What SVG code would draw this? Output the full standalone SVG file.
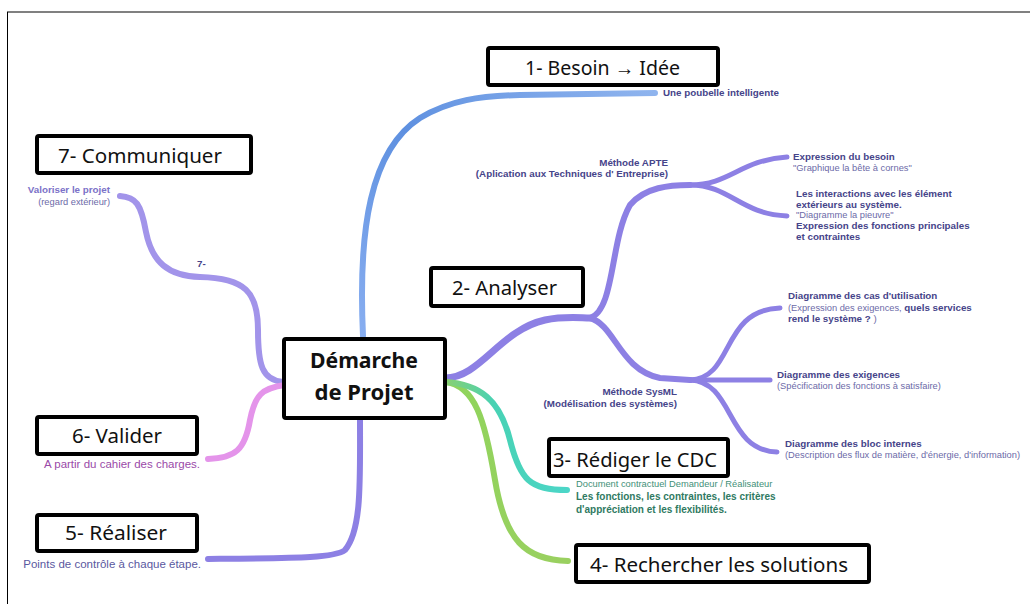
<svg xmlns="http://www.w3.org/2000/svg" width="1030" height="604" viewBox="0 0 1030 604">
<defs>
<style>
.box{fill:#fff;stroke:#000;stroke-width:4}
.bl{font-family:"Noto Sans","Open Sans",sans-serif;font-size:20px;fill:#111}
.ctr{font-family:"Noto Sans","Open Sans",sans-serif;font-size:22px;font-weight:bold;fill:#111;text-anchor:middle}
.br{fill:none;stroke-linecap:round;stroke-linejoin:round}
.t{font-family:"Liberation Sans",Arial,sans-serif;font-size:9.3px}
.b{font-weight:bold;fill:#46448a;font-size:9.8px}
.r{fill:#6c6aa8}
.big{font-size:11.5px}
.cdc{font-size:9.3px;fill:#3f9078}
.cdcb{font-size:10px;font-weight:bold;fill:#2f7a62}
</style>
<linearGradient id="gBlue" x1="0" y1="1" x2="1" y2="0"><stop offset="0" stop-color="#88aef0"/><stop offset="0.5" stop-color="#5e90e0"/><stop offset="1" stop-color="#8fb4ee"/></linearGradient>
<linearGradient id="gTeal" x1="0" y1="0" x2="1" y2="0"><stop offset="0" stop-color="#8ad070"/><stop offset="0.4" stop-color="#48d2b4"/><stop offset="1" stop-color="#4cd6c8"/></linearGradient>
<linearGradient id="gGreen" x1="0" y1="0" x2="1" y2="1"><stop offset="0" stop-color="#8fd45c"/><stop offset="1" stop-color="#9ad060"/></linearGradient>
</defs>
<g id="frame">
<line x1="7" y1="12" x2="1030" y2="12" stroke="#808080" stroke-width="2"/>
<line x1="7.5" y1="12" x2="7.5" y2="604" stroke="#000" stroke-width="1"/>
</g>
<g id="connectors">
<path class="br" stroke="url(#gBlue)" stroke-width="6" d="M363,336 C358,230 370,150 420,118 C450,100 480,96 520,95 L655,93"/>
<path class="br" stroke="#8d80e4" stroke-width="7" d="M445,378 C480,378 500,330 545,320 C565,316 580,318 590,318"/>
<path class="br" stroke="#8d80e4" stroke-width="6" d="M590,318 C615,310 610,240 630,205 C645,187 670,185 690,185"/>
<path class="br" stroke="#8d80e4" stroke-width="6" d="M590,318 C615,325 620,370 660,378 L690,380"/>
<path class="br" stroke="#8d80e4" stroke-width="5" d="M690,185 C730,185 740,160 787,157"/>
<path class="br" stroke="#8d80e4" stroke-width="5" d="M690,185 C730,185 740,214 787,216"/>
<path class="br" stroke="#8d80e4" stroke-width="5" d="M690,380 C735,378 720,310 780,308"/>
<path class="br" stroke="#8d80e4" stroke-width="5" d="M690,380 L770,380"/>
<path class="br" stroke="#8d80e4" stroke-width="5" d="M690,380 C735,382 725,450 777,452"/>
<path class="br" stroke="#a294ea" stroke-width="6" d="M283,382 C262,380 258,365 258,330 C258,292 245,278 200,277 C168,276 152,262 146,232 C141,204 136,197 120,196"/>
<path class="br" stroke="#e494ea" stroke-width="6" d="M285,385 C262,388 255,395 250,420 C245,450 235,458 208,459"/>
<path class="br" stroke="#8d80e4" stroke-width="6" d="M360,418 C360,480 362,530 345,550 C335,558 300,558 208,559"/>
<path class="br" stroke="url(#gGreen)" stroke-width="6" d="M445,382 C475,385 485,420 495,480 C505,540 525,560 568,561"/>
<path class="br" stroke="url(#gTeal)" stroke-width="6" d="M445,382 C480,384 500,400 510,440 C520,480 530,490 567,490"/>
</g>
<g id="center">
<rect class="box" x="284" y="339" width="161" height="79" rx="2"/>
<text class="ctr" x="364" y="368" textLength="108" lengthAdjust="spacingAndGlyphs">Démarche</text>
<text class="ctr" x="364" y="400" textLength="99" lengthAdjust="spacingAndGlyphs">de Projet</text>
</g>
<g id="n1">
<rect class="box" x="488" y="48" width="230" height="37" rx="2"/>
<text class="bl" x="525" y="75" textLength="155" lengthAdjust="spacingAndGlyphs">1- Besoin → Idée</text>
<text class="t b" x="663" y="96">Une poubelle intelligente</text>
</g>
<g id="n2">
<rect class="box" x="431" y="268" width="152" height="38" rx="2"/>
<text class="bl" x="452" y="295" textLength="105" lengthAdjust="spacingAndGlyphs">2- Analyser</text>
</g>
<g id="apte">
<text class="t b" x="668" y="166" text-anchor="end">Méthode APTE</text>
<text class="t b" x="668" y="177" text-anchor="end">(Aplication aux Techniques d' Entreprise)</text>
</g>
<g id="besoin">
<text class="t b" x="793" y="160">Expression du besoin</text>
<text class="t r" x="793" y="171">"Graphique la bête à cornes"</text>
</g>
<g id="interactions">
<text class="t b" x="796" y="197">Les interactions avec les élément</text>
<text class="t b" x="796" y="208">extérieurs au système.</text>
<text class="t r" x="796" y="218">"Diagramme la pieuvre"</text>
<text class="t b" x="796" y="229">Expression des fonctions principales</text>
<text class="t b" x="796" y="240">et contraintes</text>
</g>
<g id="sysml">
<text class="t b" x="677" y="395" text-anchor="end">Méthode SysML</text>
<text class="t b" x="677" y="407" text-anchor="end">(Modélisation des systèmes)</text>
</g>
<g id="cas">
<text class="t b" x="788" y="299">Diagramme des cas d'utilisation</text>
<text class="t r" x="788" y="311">(Expression des exigences, <tspan class="b">quels services</tspan></text>
<text class="t b" x="788" y="322">rend le système ? <tspan class="r" style="font-weight:normal">)</tspan></text>
</g>
<g id="exigences">
<text class="t b" x="777" y="378">Diagramme des exigences</text>
<text class="t r" x="777" y="389">(Spécification des fonctions à satisfaire)</text>
</g>
<g id="bloc">
<text class="t b" x="785" y="447">Diagramme des bloc internes</text>
<text class="t r" x="785" y="458">(Description des flux de matière, d'énergie, d'information)</text>
</g>
<g id="n3">
<rect class="box" x="549" y="439" width="179" height="37" rx="2"/>
<text class="bl" x="553" y="467" textLength="164" lengthAdjust="spacingAndGlyphs">3- Rédiger le CDC</text>
<text class="t cdc" x="576" y="487">Document contractuel Demandeur / Réalisateur</text>
<text class="t cdcb" x="576" y="500">Les fonctions, les contraintes, les critères</text>
<text class="t cdcb" x="576" y="513">d'appréciation et les flexibilités.</text>
</g>
<g id="n4">
<rect class="box" x="576" y="545" width="293" height="37" rx="2"/>
<text class="bl" x="590" y="572" textLength="258" lengthAdjust="spacingAndGlyphs">4- Rechercher les solutions</text>
</g>
<g id="n5">
<rect class="box" x="37" y="515" width="160" height="36" rx="2"/>
<text class="bl" x="65" y="540" textLength="102" lengthAdjust="spacingAndGlyphs">5- Réaliser</text>
<text class="t big" x="201" y="568" text-anchor="end" fill="#5a58a0">Points de contrôle à chaque étape.</text>
</g>
<g id="n6">
<rect class="box" x="37" y="417" width="160" height="37" rx="2"/>
<text class="bl" x="72" y="443" textLength="90" lengthAdjust="spacingAndGlyphs">6- Valider</text>
<text class="t big" x="200" y="468" text-anchor="end" fill="#9a4aa8">A partir du cahier des charges.</text>
</g>
<g id="n7">
<rect class="box" x="37" y="136" width="214" height="37" rx="2"/>
<text class="bl" x="58" y="163" textLength="164" lengthAdjust="spacingAndGlyphs">7- Communiquer</text>
<text class="t b" x="110" y="193" text-anchor="end" style="fill:#7c72c8">Valoriser le projet</text>
<text class="t r" x="110" y="205" text-anchor="end">(regard extérieur)</text>
<text class="t b" x="197" y="267">7-</text>
</g>
</svg>
